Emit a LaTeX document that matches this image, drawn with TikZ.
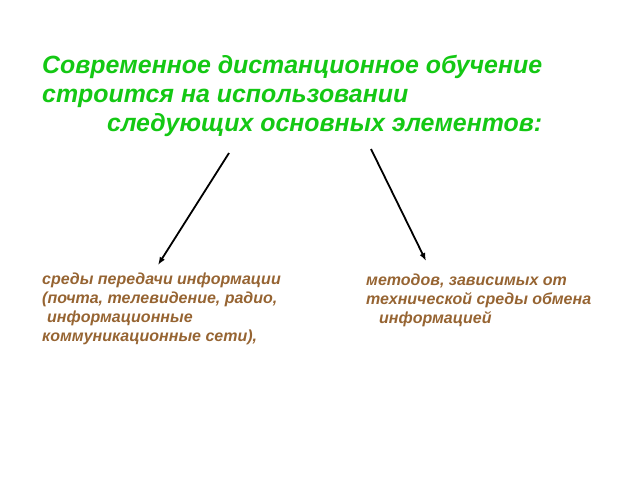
\documentclass[tikz,border=0pt]{standalone}
\usepackage{fontspec}
\setmainfont{Liberation Sans}
\usetikzlibrary{arrows.meta, positioning}
\definecolor{titlegreen}{RGB}{20,200,20}
\definecolor{itembrown}{RGB}{150,100,50}

\begin{document}
\begin{tikzpicture}[
        x=1pt, y=-1pt,
        every node/.style={anchor=north west, inner sep=0pt, align=left},
        heading/.style={text=titlegreen, font=\fontsize{24.9}{29}\selectfont\bfseries\itshape},
        item/.style={text=itembrown, font=\fontsize{16}{19}\selectfont\bfseries\itshape},
        arrow/.style={-{Latex[length=8pt, width=6pt]}, line width=1.8pt}
        ]
        \useasboundingbox (0,0) rectangle (640,480);

        \node[heading] (title) at (42,55) {Современное дистанционное обучение\\
            строится на использовании\\
            \hspace{65pt}следующих основных элементов:};
        \node[item] (media) at (42,273) {среды передачи информации\\
            (почта, телевидение, радио,\\
            \hspace{5pt}информационные\\
            коммуникационные сети),};
        \node[item] (methods) at (366,274) {методов, зависимых от\\
            технической среды обмена\\
            \hspace{13pt}информацией};

        \coordinate (leftstart) at (229,153);
        \coordinate (leftend) at (158,265);
        \coordinate (rightstart) at (371,149);
        \coordinate (rightend) at (426,261);

        \draw[arrow] (leftstart) -- (leftend);
        \draw[arrow] (rightstart) -- (rightend);
    \end{tikzpicture}
\end{document}
